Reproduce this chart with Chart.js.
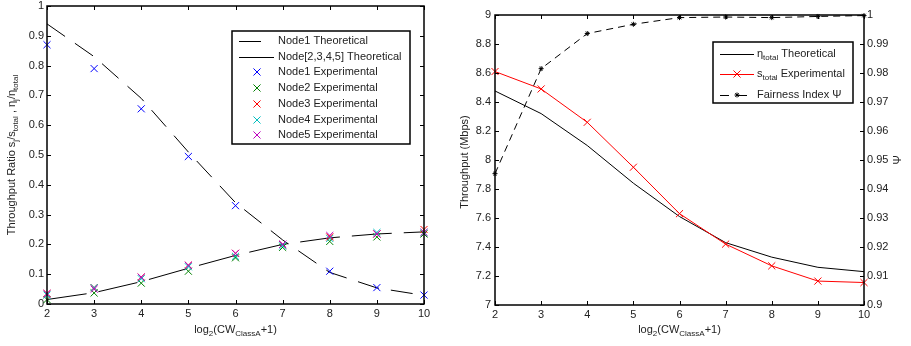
<!DOCTYPE html>
<html>
<head>
<meta charset="utf-8">
<script src="https://cdn.jsdelivr.net/npm/chart.js@4/dist/chart.umd.min.js"></script>
<style>
body { margin: 0; background: #fff; }
#wrap { position: relative; width: 911px; height: 346px; }
canvas { position: absolute; top: 0; }
</style>
</head>
<body>
<div id="wrap">
<canvas id="ratioChart" width="455" height="346" style="left:0"></canvas>
<canvas id="tputChart" width="456" height="346" style="left:455px"></canvas>
</div>
<script>
// x = log2(CW_ClassA + 1)
var xValues = [2, 3, 4, 5, 6, 7, 8, 9, 10];

// left plot: throughput ratio
var node1Theo = [0.94, 0.83, 0.69, 0.51, 0.34, 0.215, 0.106, 0.054, 0.029];
var nodeOtherTheo = [0.015, 0.038, 0.075, 0.12, 0.163, 0.2, 0.222, 0.235, 0.242];
var node1Exp = [0.87, 0.79, 0.655, 0.495, 0.33, 0.2, 0.11, 0.055, 0.03];
var node2Exp = [0.015, 0.037, 0.07, 0.11, 0.155, 0.19, 0.21, 0.225, 0.235];
var node3Exp = [0.035, 0.055, 0.09, 0.13, 0.17, 0.2, 0.225, 0.235, 0.25];
var node4Exp = [0.03, 0.055, 0.085, 0.125, 0.16, 0.195, 0.22, 0.24, 0.24];
var node5Exp = [0.035, 0.05, 0.09, 0.13, 0.17, 0.2, 0.23, 0.235, 0.24];

// right plot: total throughput and fairness
var etaTotal = [8.476, 8.32, 8.10, 7.84, 7.61, 7.43, 7.33, 7.26, 7.23];
var sTotal = [8.61, 8.49, 8.26, 7.95, 7.63, 7.42, 7.27, 7.165, 7.155];
var fairness = [0.9453, 0.9815, 0.9936, 0.9968, 0.9991, 0.9993, 0.9991, 0.9995, 0.9998];

// tick labels
var xTicks = [2, 3, 4, 5, 6, 7, 8, 9, 10];
var ratioTicks = [0, 0.1, 0.2, 0.3, 0.4, 0.5, 0.6, 0.7, 0.8, 0.9, 1];
var tputTicks = [7, 7.2, 7.4, 7.6, 7.8, 8, 8.2, 8.4, 8.6, 8.8, 9];
var fairTicks = [0.9, 0.91, 0.92, 0.93, 0.94, 0.95, 0.96, 0.97, 0.98, 0.99, 1];

var FONT = '"Liberation Sans", Arial, Helvetica, sans-serif';
var TEXT = '#222';
var TICK = 4;

function pts(arr) {
    return xValues.map(function (x, i) { return {x: x, y: arr[i]}; });
}

function setTicks(list) {
    return function (scale) {
        scale.ticks = list.map(function (v) { return {value: v}; });
    };
}

function fmt(v) {
    return String(+(+v).toFixed(3));
}

function fixSize(w, h) {
    return function (scale) {
        if (w != null) scale.width = w;
        if (h != null) scale.height = h;
        scale.paddingTop = 0;
        scale.paddingBottom = 0;
        scale.paddingLeft = 0;
        scale.paddingRight = 0;
    };
}

function richWidth(ctx, parts, size) {
    var w = 0;
    parts.forEach(function (p) {
        ctx.font = (p[1] ? size - 3 : size) + 'px ' + FONT;
        w += ctx.measureText(p[0]).width;
    });
    return w;
}

function drawRich(ctx, parts, x, y, center, rot) {
    var size = 11;
    ctx.save();
    ctx.translate(x, y);
    if (rot) ctx.rotate(rot);
    var cx = center ? -richWidth(ctx, parts, size) / 2 : 0;
    ctx.textAlign = 'left';
    ctx.textBaseline = 'middle';
    ctx.fillStyle = TEXT;
    parts.forEach(function (p) {
        ctx.font = (p[1] ? size - 3 : size) + 'px ' + FONT;
        ctx.fillText(p[0], cx, p[1] ? 4 : 0);
        cx += ctx.measureText(p[0]).width;
    });
    ctx.restore();
}

function line(ctx, x1, y1, x2, y2) {
    ctx.beginPath();
    ctx.moveTo(x1, y1);
    ctx.lineTo(x2, y2);
    ctx.stroke();
}

// matlab style box, inner ticks, axis titles with subscripts, legend
var matlabFrame = {
    id: 'matlabFrame',
    afterDraw: function (chart, args, opts) {
        var ctx = chart.ctx, a = chart.chartArea;
        var xs = chart.scales.x, yl = chart.scales.y, yr = chart.scales[opts.rightAxis];
        ctx.save();
        ctx.strokeStyle = '#000';
        ctx.lineWidth = 1;
        xs.ticks.forEach(function (t) {
            var px = Math.round(xs.getPixelForValue(t.value)) + 0.5;
            line(ctx, px, a.bottom, px, a.bottom - TICK);
            line(ctx, px, a.top, px, a.top + TICK);
        });
        yl.ticks.forEach(function (t) {
            var py = Math.round(yl.getPixelForValue(t.value)) + 0.5;
            line(ctx, a.left, py, a.left + TICK, py);
        });
        yr.ticks.forEach(function (t) {
            var py = Math.round(yr.getPixelForValue(t.value)) + 0.5;
            line(ctx, a.right, py, a.right - TICK, py);
        });
        ctx.lineWidth = 1.5;
        ctx.strokeRect(a.left, a.top, a.right - a.left, a.bottom - a.top);

        // axis titles
        opts.titles.forEach(function (t) {
            drawRich(ctx, t.parts, t.x, t.y, true, t.rot);
        });

        // legend
        var lg = opts.legend;
        ctx.fillStyle = '#fff';
        ctx.fillRect(lg.box[0], lg.box[1], lg.box[2] - lg.box[0], lg.box[3] - lg.box[1]);
        ctx.lineWidth = 1.5;
        ctx.strokeStyle = '#000';
        ctx.strokeRect(lg.box[0], lg.box[1], lg.box[2] - lg.box[0], lg.box[3] - lg.box[1]);
        lg.items.forEach(function (it, i) {
            var ds = chart.data.datasets[it.ds];
            var y = lg.rows[i];
            var parts = it.parts || [[ds.label, false]];
            if (ds.showLine) {
                ctx.save();
                ctx.strokeStyle = ds.borderColor;
                ctx.lineWidth = 1;
                ctx.setLineDash(it.dash || ds.borderDash || []);
                line(ctx, lg.lineX[0], y + 0.5, it.lineEnd || lg.lineX[1], y + 0.5);
                ctx.restore();
            }
            if (ds.pointRadius > 0) {
                ctx.save();
                ctx.lineWidth = 1;
                ctx.strokeStyle = ds.pointBorderColor || ds.borderColor;
                ctx.fillStyle = ctx.strokeStyle;
                Chart.helpers.drawPoint(ctx, {
                    pointStyle: ds.pointStyle, radius: ds.pointRadius,
                    borderWidth: 1, rotation: 0
                }, lg.markerX, y);
                ctx.restore();
            }
            drawRich(ctx, parts, lg.textX, y, false, 0);
        });
        ctx.restore();
    }
};

var tickFont = {family: FONT, size: 11};

function xScale(h) {
    return {
        type: 'linear', min: 2, max: 10,
        grid: {display: false, drawTicks: false}, border: {display: false},
        ticks: {font: tickFont, color: TEXT, padding: 3, autoSkip: false, maxRotation: 0, callback: fmt},
        afterBuildTicks: setTicks(xTicks),
        afterFit: fixSize(null, h)
    };
}

function yScale(pos, min, max, list, pad, w) {
    return {
        type: 'linear', position: pos, min: min, max: max,
        grid: {display: false, drawTicks: false}, border: {display: false},
        ticks: {font: tickFont, color: TEXT, padding: pad, autoSkip: false, callback: fmt},
        afterBuildTicks: setTicks(list),
        afterFit: fixSize(w, null)
    };
}

function marker(label, color, arr, order) {
    return {
        label: label, data: pts(arr), showLine: false,
        borderColor: color, backgroundColor: color,
        pointStyle: 'crossRot', pointRadius: 5, pointBorderWidth: 1,
        clip: false, order: order
    };
}

var sub = function (s) { return [s, true]; };
var txt = function (s) { return [s, false]; };

new Chart('ratioChart', {
    type: 'scatter',
    data: {
        datasets: [
            {label: 'Node1 Theoretical', data: pts(node1Theo), showLine: true, borderColor: '#000',
                borderWidth: 1, borderDash: [22, 12], pointRadius: 0, clip: false, order: 5},
            {label: 'Node[2,3,4,5] Theoretical', data: pts(nodeOtherTheo), showLine: true, borderColor: '#000',
                borderWidth: 1, borderDash: [40, 12], pointRadius: 0, clip: false, order: 6},
            marker('Node1 Experimental', '#0000ff', node1Exp, 4),
            marker('Node2 Experimental', '#008000', node2Exp, 3),
            marker('Node3 Experimental', '#ff0000', node3Exp, 2),
            marker('Node4 Experimental', '#00bfbf', node4Exp, 1),
            marker('Node5 Experimental', '#bf00bf', node5Exp, 0)
        ]
    },
    options: {
        responsive: false,
        animation: false,
        layout: {padding: {top: 6, right: 31, left: 0, bottom: 0}},
        plugins: {
            legend: {display: false},
            tooltip: {enabled: false},
            matlabFrame: {
                rightAxis: 'y',
                titles: [
                    {parts: [txt('Throughput Ratio s'), sub('j'), txt('/s'), sub('total'), txt(' , \u03b7'), sub('j'), txt('/\u03b7'), sub('total')],
                        x: 12, y: 155, rot: -Math.PI / 2},
                    {parts: [txt('log'), sub('2'), txt('(CW'), sub('ClassA'), txt('+1)')], x: 235.5, y: 330, rot: 0}
                ],
                legend: {
                    box: [232, 31, 410, 144],
                    rows: [41, 57, 72, 88, 104, 120, 135],
                    lineX: [239, 274], markerX: 257, textX: 278,
                    items: [
                        {ds: 0, lineEnd: 263},
                        {ds: 1, dash: []},
                        {ds: 2}, {ds: 3}, {ds: 4}, {ds: 5}, {ds: 6}
                    ]
                }
            }
        },
        scales: {
            x: xScale(42),
            y: yScale('left', 0, 1, ratioTicks, 3, 47)
        }
    },
    plugins: [matlabFrame]
});

new Chart('tputChart', {
    type: 'scatter',
    data: {
        datasets: [
            {label: '\u03b7total Theoretical', data: pts(etaTotal), showLine: true, borderColor: '#000',
                borderWidth: 1, pointRadius: 0, clip: false, yAxisID: 'y', order: 2},
            {label: 'stotal Experimental', data: pts(sTotal), showLine: true, borderColor: '#ff0000',
                borderWidth: 1, pointStyle: 'crossRot', pointRadius: 5, pointBorderWidth: 1,
                pointBorderColor: '#ff0000', backgroundColor: '#ff0000', clip: false, yAxisID: 'y', order: 1},
            {label: 'Fairness Index \u03a8', data: pts(fairness), showLine: true, borderColor: '#000',
                borderWidth: 1, borderDash: [7, 5], pointStyle: 'star', pointRadius: 2.5, pointBorderWidth: 1,
                pointBorderColor: '#000', backgroundColor: '#000', clip: false, yAxisID: 'y2', order: 0}
        ]
    },
    options: {
        responsive: false,
        animation: false,
        layout: {padding: {top: 15, right: 0, left: 0, bottom: 0}},
        plugins: {
            legend: {display: false},
            tooltip: {enabled: false},
            matlabFrame: {
                rightAxis: 'y2',
                titles: [
                    {parts: [txt('Throughput (Mbps)')], x: 9.5, y: 162, rot: -Math.PI / 2},
                    {parts: [txt('\u03a8')], x: 443, y: 160, rot: -Math.PI / 2},
                    {parts: [txt('log'), sub('2'), txt('(CW'), sub('ClassA'), txt('+1)')], x: 224.5, y: 330, rot: 0}
                ],
                legend: {
                    box: [258, 42, 398, 103],
                    rows: [54, 74, 95],
                    lineX: [265, 299], markerX: 282, textX: 302,
                    items: [
                        {ds: 0, parts: [txt('\u03b7'), sub('total'), txt(' Theoretical')]},
                        {ds: 1, parts: [txt('s'), sub('total'), txt(' Experimental')]},
                        {ds: 2, dash: [9, 9]}
                    ]
                }
            }
        },
        scales: {
            x: xScale(41),
            y: yScale('left', 7, 9, tputTicks, 4, 40),
            y2: yScale('right', 0.9, 1, fairTicks, 3, 47)
        }
    },
    plugins: [matlabFrame]
});
</script>
</body>
</html>
